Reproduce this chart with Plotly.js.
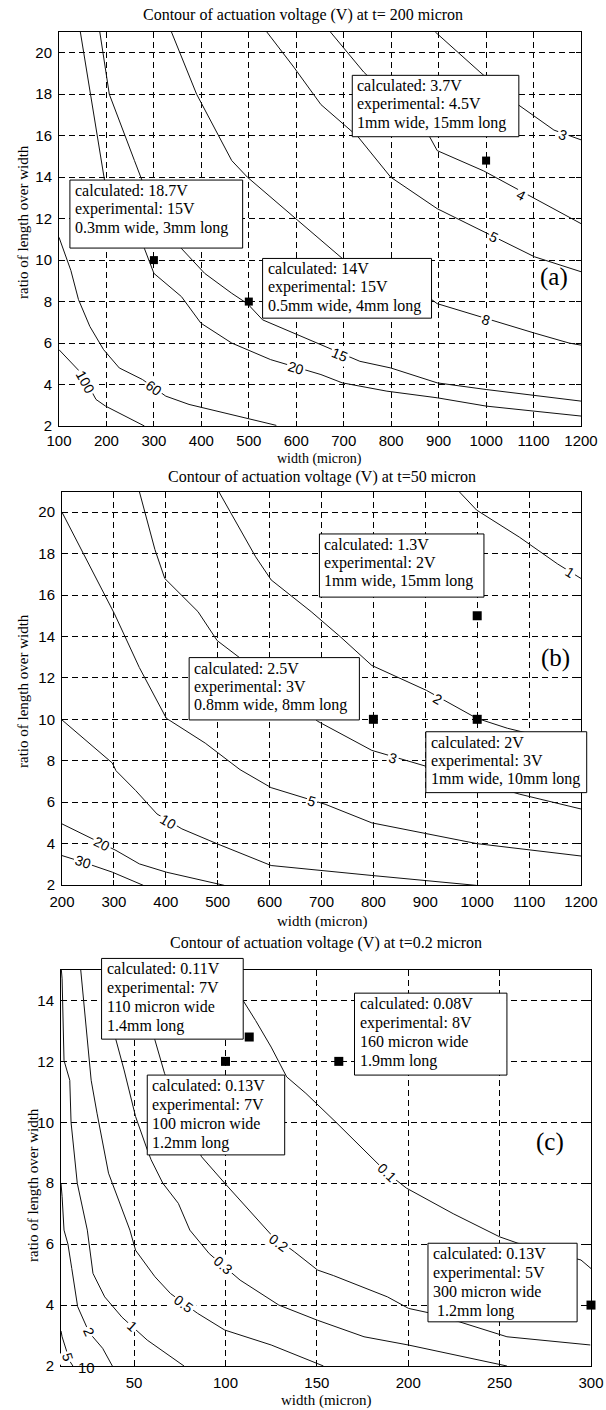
<!DOCTYPE html>
<html><head><meta charset="utf-8">
<script src="https://cdn.plot.ly/plotly-3.0.1.min.js"></script>
<style>html,body{margin:0;padding:0;background:#fff}</style>
</head><body><div id="chart" style="width:606px;height:1410px"></div>
<script>
// ---------------- DATA ----------------
// Panel (a): t = 200 micron
const aTickX = [100,200,300,400,500,600,700,800,900,1000,1100,1200];
const aTickY = [2,4,6,8,10,12,14,16,18,20];
const aC100X = [100,149,178,198,280];
const aC100Y = [5.68,4.5,3.28,2.96,2.0];
const aC60X = [100,125,141,165,194,227,276,325,374,558];
const aC60Y = [11.1,9.5,8.1,6.8,5.68,4.8,4.24,3.44,3.04,2.03];
const aC20X = [145,190,196,280,300,358,399,464,546,652,697,791,897,1000,1200];
const aC20Y = [21,14.8,13.84,10.56,9.36,8.24,6.96,6.0,5.2,4.48,4.08,3.68,3.36,2.96,2.48];
const aC15X = [186,206,259,275,358,407,464,497,529,627,734,799,897,1000,1200];
const aC15Y = [21,18,14.8,13.84,10.56,9.36,8.4,7.9,7.12,6.16,5.12,4.8,4.08,3.76,3.2];
const aC8X = [337,390,464,497,603,697,885,897,1102,1175,1200];
const aC8Y = [21,18,14.8,14,11.92,10.08,8.1,7.9,6.48,6.0,5.9];
const aC5X = [538,595,652,730,799,897,1102,1200];
const aC5Y = [21,19.3,17.5,15.95,14.0,12.48,10.16,9.44];
const aC4X = [672,742,881,897,995,1200];
const aC4Y = [21,19.07,15.95,15.28,14.3,11.76];
const aC3X = [893,987,1069,1143,1200];
const aC3Y = [21,19.07,17.47,16.27,15.8];
const aLabelText = ['100','60','20','15','8','5','4','3'];
const aLabelX = [155,300,599,693,1000,1016,1073,1163];
const aLabelY = [4.1,3.84,4.8,5.44,7.1,11.12,13.12,16.05];
const aPointX = [300,500,1000];
const aPointY = [10,8,14.8];
const aBox1 = ['calculated: 3.7V','experimental: 4.5V','1mm wide, 15mm long'];
const aBox2 = ['calculated: 18.7V','experimental: 15V','0.3mm wide, 3mm long'];
const aBox3 = ['calculated: 14V','experimental: 15V','0.5mm wide, 4mm long'];

// Panel (b): t = 50 micron
const bTickX = [200,300,400,500,600,700,800,900,1000,1100,1200];
const bTickY = [2,4,6,8,10,12,14,16,18,20];
const bC1X = [965,999,1081,1155,1200];
const bC1Y = [21,20.1,18.8,17.5,16.8];
const bC2X = [502,573,603,680,737,797,902,999,1058,1200];
const bC2Y = [21,17.85,16.73,15.2,13.97,12.6,11.4,10.05,9.57,8.7];
const bC3X = [349,379,398,462,499,543,693,797,902,1081,1200];
const bC3Y = [21,18.2,16.8,15.2,13.8,12.96,9.9,8.5,7.73,6.39,5.67];
const bC5X = [200,301,349,401,476,543,603,707,797,999,1200];
const bC5Y = [20,15.1,12.5,10.05,8.85,7.57,6.7,5.9,5.0,4.0,3.4];
const bC10X = [200,297,304,342,383,431,499,603,797,999];
const bC10Y = [9.97,7.89,7.52,6.56,5.43,4.71,3.99,2.94,2.46,1.98];
const bC20X = [200,278,304,349,401,513];
const bC20Y = [4.95,3.99,3.67,3.02,2.62,1.98];
const bC30X = [200,241,297,357];
const bC30Y = [3.42,3.1,2.62,1.98];
const bLabelText = ['1','2','3','5','10','20','30'];
const bLabelX = [1178,924,838,681,405,278,241];
const bLabelY = [17.1,11.0,8.13,6.07,5.03,3.99,3.1];
const bPointX = [1000,800,1000];
const bPointY = [15,10,10];
const bBox1 = ['calculated: 1.3V','experimental: 2V','1mm wide, 15mm long'];
const bBox2 = ['calculated: 2.5V','experimental: 3V','0.8mm wide, 8mm long'];
const bBox3 = ['calculated: 2V','experimental: 3V','1mm wide, 10mm long'];

// Panel (c): t = 0.2 micron
const cTickX = [50,100,150,200,250,300];
const cTickY = [2,4,6,8,10,12,14];
const cC5X = [10,10.6,14.8,16.5];
const cC5Y = [3.15,2.96,2.16,2.0];
const cC2X = [10,10.6,11.65,13.8,15.9,19.1,25.4,32.8,38.1];
const cC2Y = [8.0,7.56,6.46,6.0,5.2,3.95,3.1,2.58,2.0];
const cC1X = [10.2,10.6,11.65,14.8,15.5,18.9,24.4,27.5,33.9,43.4,57.2,77.3];
const cC1Y = [15,14.71,12.03,11.38,10.0,8.0,6.46,5.04,4.27,3.6,2.85,2.0];
const cC05X = [20.8,26.5,29.7,36,47.7,50.8,61.4,69.9,84.7,99.6,125,153.6];
const cC05Y = [15,11.38,10.3,8.33,6.46,5.8,4.93,4.38,3.73,3.18,2.69,2.0];
const cC03X = [34.5,39.2,44.5,50.8,57.2,59.3,65.7,74.2,80.5,91.1,108,129.2,150.4,175.8,200,254];
const cC03Y = [15,12.9,11.72,10.19,9.1,8.77,8.0,7.34,6.46,5.69,4.82,4.0,3.5,2.96,2.69,2.0];
const cC02X = [52.3,61.4,66.7,86.9,99.6,114.4,125,137.7,150.4,159,188.6,200.2,211,228,254,299.6];
const cC02Y = [15,12.7,11.6,8.87,8.0,7.02,6.31,5.75,5.15,4.97,4.27,3.89,3.75,3.45,2.96,2.69];
const cC01X = [105,109.1,116.5,125,133.5,144,161,173.7,188.6,199,224.6,250,260,294.5,300];
const cC01Y = [15,14.05,13.34,12.47,11.49,10.95,9.97,9.2,8.33,7.84,7.0,6.24,6.03,5.48,5.2];
const cLabelText = ['5','2','1','0.5','0.3','0.2','0.1'];
const cLabelX = [13.8,25.4,48.7,77.3,98.5,129.2,188.6];
const cLabelY = [2.3,3.12,3.3,4.05,5.3,6.05,8.33];
const cPointX = [100,113,162,300];
const cPointY = [12,12.8,12,4];
const cBox1 = ['calculated: 0.11V','experimental: 7V','110 micron wide','1.4mm long'];
const cBox2 = ['calculated: 0.08V','experimental: 8V','160 micron wide','1.9mm long'];
const cBox3 = ['calculated: 0.13V','experimental: 7V','100 micron wide','1.2mm long'];
const cBox4 = ['calculated: 0.13V','experimental: 5V','300 micron wide',' 1.2mm long'];

// ---------------- LAYOUT GEOMETRY ----------------
const W = 606, H = 1410;
const P = {
  a: {xs:'x',  ys:'y',  px:[59,581], py:[32,426],  xr:[100,1200], yr:[2,21]},
  b: {xs:'x2', ys:'y2', px:[62,581], py:[491.5,885], xr:[200,1200], yr:[2,21]},
  c: {xs:'x3', ys:'y3', px:[61,591], py:[970,1366], xr:[10,300], yr:[2,15]}
};
function kx(p){return (p.px[1]-p.px[0])/(p.xr[1]-p.xr[0]);}
function ky(p){return (p.py[1]-p.py[0])/(p.yr[1]-p.yr[0]);}
function toPX(p,x){return p.px[0]+(x-p.xr[0])*kx(p);}
function toPY(p,y){return p.py[1]-(y-p.yr[0])*ky(p);}
function paperX(px){return px/W;}
function paperY(py){return 1-py/H;}

const SERIF = 'Liberation Serif, Times New Roman, serif';
const SANS = 'Liberation Sans, Arial, sans-serif';

const traces = [];
const annotations = [];
const shapes = [];

function addLines(p, list){
  list.forEach(([xs,ys])=>{
    traces.push({type:'scatter', mode:'lines', x:xs, y:ys, xaxis:p.xs, yaxis:p.ys,
      line:{color:'#111', width:1}, hoverinfo:'skip', showlegend:false});
  });
}
function segAngle(p, xs, ys, lx, ly){
  let best=1e9, ang=0;
  for(let i=0;i<xs.length-1;i++){
    const x1=toPX(p,xs[i]), y1=toPY(p,ys[i]), x2=toPX(p,xs[i+1]), y2=toPY(p,ys[i+1]);
    const qx=toPX(p,lx), qy=toPY(p,ly);
    const dx=x2-x1, dy=y2-y1, L2=dx*dx+dy*dy;
    let t=L2? ((qx-x1)*dx+(qy-y1)*dy)/L2 : 0; t=Math.max(0,Math.min(1,t));
    const ex=x1+t*dx-qx, ey=y1+t*dy-qy, d=ex*ex+ey*ey;
    if(d<best){best=d; let a=Math.atan2(dy,dx)*180/Math.PI; if(a>90)a-=180; if(a<-90)a+=180; ang=a;}
  }
  return ang;
}
function addLabels(p, lines, texts, lxs, lys){
  texts.forEach((t,i)=>{
    const [xs,ys]=lines[i];
    annotations.push({xref:p.xs, yref:p.ys, x:lxs[i], y:lys[i], text:t, showarrow:false,
      textangle:segAngle(p,xs,ys,lxs[i],lys[i]), bgcolor:'#fff', borderpad:1,
      font:{family:SANS, size:14, color:'#000'}});
  });
}
function addPoints(p, xs, ys, size){
  traces.push({type:'scatter', mode:'markers', x:xs, y:ys, xaxis:p.xs, yaxis:p.ys, cliponaxis:false,
    marker:{symbol:'square', color:'#000', size:size}, hoverinfo:'skip', showlegend:false});
}
// box: data-space corners, converted to paper so nothing is clipped
function addBox(p, lines, x0, x1, yTop, yBot, step){
  const X0=toPX(p,x0), X1=toPX(p,x1), Y0=toPY(p,yTop), Y1=toPY(p,yBot);
  shapes.push({type:'rect', xref:'paper', yref:'paper', x0:paperX(X0), x1:paperX(X1),
    y0:paperY(Y1), y1:paperY(Y0), line:{color:'#000', width:1}, fillcolor:'#fff', layer:'above'});
  lines.forEach((t,i)=>{
    annotations.push({xref:'paper', yref:'paper', x:paperX(X0+3), y:paperY(Y0+10.5+i*step),
      xanchor:'left', yanchor:'middle', text:t, showarrow:false,
      font:{family:SERIF, size:16, color:'#000'}});
  });
}
function textAt(px, py, t, size, angle){
  annotations.push({xref:'paper', yref:'paper', x:paperX(px), y:paperY(py), text:t, showarrow:false,
    xanchor:'center', yanchor:'middle', textangle:angle||0, font:{family:SERIF, size:size, color:'#000'}});
}

// ---- Panel a ----
const aLines = [[aC100X,aC100Y],[aC60X,aC60Y],[aC20X,aC20Y],[aC15X,aC15Y],[aC8X,aC8Y],[aC5X,aC5Y],[aC4X,aC4Y],[aC3X,aC3Y]];
addLines(P.a, aLines);
addLabels(P.a, aLines, aLabelText, aLabelX, aLabelY);
addPoints(P.a, aPointX, aPointY, 8);
// ---- Panel b ----
const bLines = [[bC1X,bC1Y],[bC2X,bC2Y],[bC3X,bC3Y],[bC5X,bC5Y],[bC10X,bC10Y],[bC20X,bC20Y],[bC30X,bC30Y]];
addLines(P.b, bLines);
addLabels(P.b, bLines, bLabelText, bLabelX, bLabelY);
addPoints(P.b, bPointX, bPointY, 9);
// ---- Panel c ----
const cLines = [[cC5X,cC5Y],[cC2X,cC2Y],[cC1X,cC1Y],[cC05X,cC05Y],[cC03X,cC03Y],[cC02X,cC02Y],[cC01X,cC01Y]];
addLines(P.c, cLines);
addLabels(P.c, cLines, cLabelText, cLabelX, cLabelY);
addPoints(P.c, cPointX, cPointY, 9);

// boxes
addBox(P.a, aBox1, 718, 1069, 18.91, 15.95, 18.5);
addBox(P.a, aBox2, 123, 487, 13.86, 10.58, 18.5);
addBox(P.a, aBox3, 529, 885, 10.08, 7.2, 18.5);
addBox(P.b, bBox1, 696, 1013, 18.95, 15.9, 18.5);
addBox(P.b, bBox2, 445, 773, 12.98, 9.97, 18.5);
addBox(P.b, bBox3, 901, 1211, 9.4, 6.46, 18.5);
addBox(P.c, cBox1, 32.2, 109.7, 15.38, 12.73, 19);
addBox(P.c, cBox2, 170.6, 254, 14.24, 11.55, 19);
addBox(P.c, cBox3, 57.2, 132.4, 11.55, 8.93, 19);
addBox(P.c, cBox4, 210.8, 292.4, 6.03, 3.45, 19);

// panel tags
annotations.push({xref:'x', yref:'y', x:1143, y:9.18, text:'(a)', showarrow:false, font:{family:SERIF,size:25,color:'#000'}});
annotations.push({xref:'x2', yref:'y2', x:1151, y:12.96, text:'(b)', showarrow:false, font:{family:SERIF,size:25,color:'#000'}});
annotations.push({xref:'x3', yref:'y3', x:277.5, y:9.35, text:'(c)', showarrow:false, font:{family:SERIF,size:25,color:'#000'}});

// titles & axis titles
textAt(303, 15, 'Contour of actuation voltage (V) at t= 200 micron', 16);
textAt(320, 458.5, 'width (micron)', 14);
textAt(23, 222, 'ratio of length over width', 15, -90);
textAt(322, 476.5, 'Contour of actuation voltage (V) at t=50 micron', 16);
textAt(322, 922, 'width (micron)', 15);
textAt(23, 691, 'ratio of length over width', 15, -90);
textAt(326, 943, 'Contour of actuation voltage (V) at t=0.2 micron', 16);
textAt(326, 1400, 'width (micron)', 15);
textAt(33, 1185, 'ratio of length over width', 15, -90);
// panel c first tick label sits just right of the axis corner
annotations.push({xref:'paper', yref:'paper', x:paperX(76), y:paperY(1378), text:'10', showarrow:false,
  font:{family:SANS,size:15,color:'#000'}});

function baseAxis(ticks){
  return {tickmode:'array', tickvals:ticks, ticktext:ticks.map(String),
    showline:true, mirror:'ticks', linecolor:'#000', linewidth:1,
    ticks:'inside', ticklen:5, tickcolor:'#000',
    showgrid:true, gridcolor:'#000', gridwidth:1, griddash:'6px,4px', zeroline:false,
    tickfont:{family:SANS, size:15, color:'#000'}, fixedrange:true};
}
function axisX(p, ticks, standoff){
  return Object.assign(baseAxis(ticks), {domain:[paperX(p.px[0]), paperX(p.px[1])], range:p.xr, anchor:p.ys, ticklabelstandoff:standoff});
}
function axisY(p, ticks){
  return Object.assign(baseAxis(ticks), {domain:[paperY(p.py[1]), paperY(p.py[0])], range:p.yr, anchor:p.xs, ticklabelstandoff:3});
}

const layout = {
  width:W, height:H, margin:{l:0,r:0,t:0,b:0}, paper_bgcolor:'#fff', plot_bgcolor:'#fff',
  showlegend:false,
  xaxis:axisX(P.a,aTickX,1), yaxis:axisY(P.a,aTickY),
  xaxis2:axisX(P.b,bTickX,3), yaxis2:axisY(P.b,bTickY),
  xaxis3:axisX(P.c,cTickX,3), yaxis3:axisY(P.c,cTickY),
  shapes:shapes, annotations:annotations
};
Plotly.newPlot('chart', traces, layout, {staticPlot:true, displayModeBar:false});
</script></body></html>
